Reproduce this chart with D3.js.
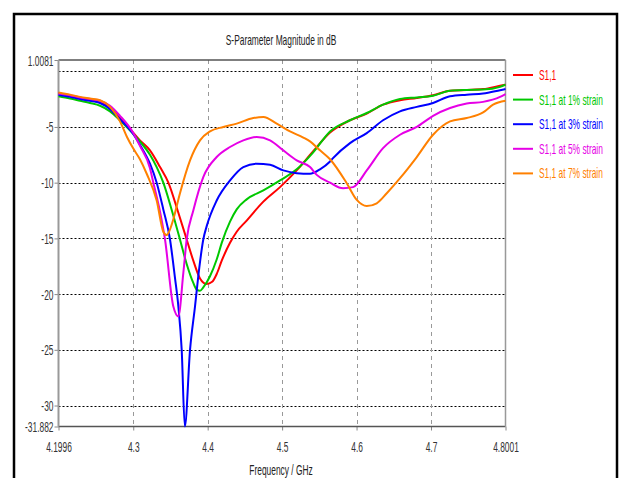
<!DOCTYPE html>
<html>
<head>
<meta charset="utf-8">
<script src="https://cdn.jsdelivr.net/npm/d3@7"></script>
<style>
  html, body { margin: 0; padding: 0; background: #fff; }
  svg { display: block; font-family: "Liberation Sans", Arial, sans-serif; }
</style>
</head>
<body>
<svg id="chart" width="619" height="478"></svg>
<script>
// S11 magnitude (dB) versus frequency (GHz), one [f, dB] list per strain level
const s11 = [
  [4.1996,-1.95],[4.2151,-2.2],[4.2285,-2.4],[4.2419,-2.6],[4.2554,-2.8],[4.2688,-3.3],
  [4.2822,-4.2],[4.2997,-5.5],[4.3090,-6.2],[4.3225,-7.1],[4.3360,-8.6],[4.3472,-10.0],
  [4.3606,-12.7],[4.3718,-15.1],[4.3807,-17.0],[4.3897,-18.6],[4.3987,-19.1],[4.4060,-18.9],
  [4.4121,-18.2],[4.4189,-17.0],[4.4300,-15.4],[4.4390,-14.4],[4.4524,-13.4],[4.4748,-11.7],
  [4.4972,-10.4],[4.5196,-8.9],[4.5415,-7.2],[4.5644,-5.5],[4.5912,-4.4],[4.6137,-3.8],
  [4.6356,-3.0],[4.6584,-2.6],[4.6809,-2.4],[4.7028,-2.15],[4.7256,-1.75],[4.7480,-1.68],
  [4.7700,-1.6],[4.7928,-1.3],[4.8001,-1.2]
];
const s11Strain1 = [
  [4.1996,-2.25],[4.2151,-2.45],[4.2285,-2.65],[4.2419,-2.85],[4.2554,-3.1],[4.2688,-3.6],
  [4.2822,-4.4],[4.2997,-5.6],[4.3090,-6.3],[4.3225,-7.5],[4.3315,-8.6],[4.3404,-10.0],
  [4.3515,-12.4],[4.3628,-15.1],[4.3718,-17.3],[4.3807,-19.0],[4.3853,-19.6],[4.3897,-19.7],
  [4.3941,-19.4],[4.4031,-18.4],[4.4121,-16.9],[4.4189,-15.4],[4.4300,-13.5],[4.4390,-12.4],
  [4.4524,-11.5],[4.4748,-10.7],[4.4972,-9.8],[4.5196,-8.8],[4.5415,-7.3],[4.5644,-5.4],
  [4.5912,-4.4],[4.6137,-3.75],[4.6356,-3.0],[4.6584,-2.5],[4.6809,-2.35],[4.7028,-2.2],
  [4.7256,-1.75],[4.7480,-1.68],[4.7700,-1.65],[4.7928,-1.4],[4.8001,-1.2]
];
const s11Strain3 = [
  [4.1996,-2.1],[4.2151,-2.3],[4.2285,-2.5],[4.2419,-2.65],[4.2554,-2.85],[4.2688,-3.4],
  [4.2822,-4.3],[4.2997,-5.6],[4.3090,-6.6],[4.3225,-8.3],[4.3315,-10.0],[4.3404,-12.4],
  [4.3494,-15.1],[4.3560,-18.5],[4.3606,-21.1],[4.3651,-25.0],[4.3693,-31.88],[4.3763,-25.0],
  [4.3830,-21.1],[4.3888,-17.6],[4.3941,-15.1],[4.3987,-13.9],[4.4121,-11.6],[4.4300,-9.8],
  [4.4479,-8.6],[4.4659,-8.3],[4.4838,-8.4],[4.5016,-8.9],[4.5196,-9.15],[4.5375,-9.2],
  [4.5509,-8.8],[4.5644,-8.1],[4.5684,-7.8],[4.5912,-6.45],[4.6137,-5.55],[4.6356,-4.4],
  [4.6584,-3.6],[4.6809,-3.2],[4.7028,-2.85],[4.7256,-2.25],[4.7480,-2.1],[4.7700,-2.0],
  [4.7928,-1.7],[4.8001,-1.6]
];
const s11Strain5 = [
  [4.1996,-2.0],[4.2151,-2.15],[4.2285,-2.35],[4.2419,-2.5],[4.2554,-2.65],[4.2688,-3.1],
  [4.2822,-4.0],[4.2997,-5.5],[4.3090,-6.7],[4.3225,-8.7],[4.3270,-10.0],[4.3360,-12.6],
  [4.3427,-15.1],[4.3538,-21.1],[4.3606,-22.0],[4.3673,-18.1],[4.3718,-15.1],[4.3807,-12.5],
  [4.3941,-9.5],[4.4121,-7.7],[4.4300,-6.8],[4.4479,-6.2],[4.4659,-5.9],[4.4838,-6.2],
  [4.5016,-7.1],[4.5196,-8.0],[4.5375,-8.6],[4.5465,-9.3],[4.5644,-10.0],[4.5819,-10.5],
  [4.5953,-10.4],[4.6137,-8.9],[4.6356,-6.9],[4.6584,-5.7],[4.6809,-5.0],[4.7028,-4.0],
  [4.7256,-3.3],[4.7480,-2.9],[4.7700,-2.75],[4.7928,-2.3],[4.8001,-2.05]
];
const s11Strain7 = [
  [4.1996,-1.9],[4.2151,-2.1],[4.2285,-2.3],[4.2419,-2.45],[4.2554,-2.6],[4.2688,-3.2],
  [4.2822,-4.5],[4.2916,-5.9],[4.2997,-6.9],[4.3090,-7.9],[4.3181,-9.2],[4.3315,-11.6],
  [4.3404,-14.4],[4.3450,-14.7],[4.3494,-14.2],[4.3538,-13.3],[4.3628,-10.95],[4.3763,-8.0],
  [4.3897,-6.2],[4.4031,-5.4],[4.4210,-5.0],[4.4390,-4.7],[4.4613,-4.2],[4.4748,-4.1],
  [4.4928,-4.7],[4.5106,-5.4],[4.5285,-5.95],[4.5375,-6.3],[4.5509,-7.1],[4.5644,-7.9],
  [4.5868,-10.05],[4.6003,-11.55],[4.6137,-12.1],[4.6271,-11.85],[4.6406,-10.95],
  [4.6584,-9.6],[4.6809,-7.7],[4.7028,-5.7],[4.7256,-4.5],[4.7480,-4.2],[4.7700,-3.7],
  [4.7834,-3.0],[4.8001,-2.65]
];

const seriesNames  = ["S1,1", "S1,1 at 1% strain", "S1,1 at 3% strain", "S1,1 at 5% strain", "S1,1 at 7% strain"];
const seriesColors = ["#ff0000", "#00c800", "#0000ff", "#e600e6", "#ff8000"];
const seriesData   = [s11, s11Strain1, s11Strain3, s11Strain5, s11Strain7];

const xTicks = [4.1996, 4.3, 4.4, 4.5, 4.6, 4.7, 4.8001];
const xTickLabels = ["4.1996", "4.3", "4.4", "4.5", "4.6", "4.7", "4.8001"];
const yTicks = [1.0081, -5, -10, -15, -20, -25, -30, -31.882];
const yTickLabels = ["1.0081", "-5", "-10", "-15", "-20", "-25", "-30", "-31.882"];
const xGrid = [4.3, 4.4, 4.5, 4.6, 4.7];
const yGrid = [0, -5, -10, -15, -20, -25, -30];

const svg = d3.select("#chart");
const plot = { left: 58.5, right: 505.5, top: 60, bottom: 426.5 };

const x = d3.scaleLinear().domain([4.1996, 4.8001]).range([plot.left, plot.right]);
const y = d3.scaleLinear().domain([-31.882, 1.0081]).range([plot.bottom, plot.top]);

// condensed lettering: squeeze each label horizontally about its anchor point
const squeeze = 0.6;
function condense(sel) {
  sel.each(function () {
    const t = d3.select(this);
    const tx = +t.attr("x") || 0, ty = +t.attr("y") || 0;
    t.attr("x", 0).attr("y", 0)
     .attr("transform", `translate(${tx},${ty}) scale(${squeeze},1)`);
  });
}

// outer frame
svg.append("rect")
  .attr("x", 14).attr("y", 14).attr("width", 603).attr("height", 480)
  .attr("fill", "none").attr("stroke", "#000").attr("stroke-width", 2.5);

// grid
svg.append("g").selectAll("line").data(yGrid).join("line")
  .attr("x1", plot.left).attr("x2", plot.right)
  .attr("y1", d => Math.round(y(d)) + 0.5).attr("y2", d => Math.round(y(d)) + 0.5)
  .attr("stroke", "#000").attr("stroke-width", 1).attr("stroke-dasharray", "2,2");
svg.append("g").selectAll("line").data(xGrid).join("line")
  .attr("x1", d => Math.round(x(d)) + 0.5).attr("x2", d => Math.round(x(d)) + 0.5)
  .attr("y1", plot.top).attr("y2", plot.bottom)
  .attr("stroke", "#999").attr("stroke-width", 1).attr("stroke-dasharray", "4,4");

// axes
const yAxis = svg.append("g").attr("transform", `translate(${plot.left},0)`)
  .call(d3.axisLeft(y).tickValues(yTicks).tickSize(4).tickFormat((d, i) => yTickLabels[i]));
const xAxis = svg.append("g").attr("transform", `translate(0,${plot.bottom})`)
  .call(d3.axisBottom(x).tickValues(xTicks).tickSize(4).tickFormat((d, i) => xTickLabels[i]));
[yAxis, xAxis].forEach(a => {
  a.select(".domain").remove();
  a.selectAll(".tick line").attr("stroke", "#888");
  a.selectAll(".tick text").attr("fill", "#333").style("font-size", "14px")
    .style("font-family", "'Liberation Sans', Arial, sans-serif");
});
yAxis.selectAll(".tick text").attr("x", -5).attr("y", 0).attr("dy", "0.36em");
xAxis.selectAll(".tick text").attr("x", 0).attr("y", 20).attr("dy", "0.36em");
condense(yAxis.selectAll(".tick text"));
condense(xAxis.selectAll(".tick text"));

// plot border
svg.append("line").attr("x1", plot.left).attr("x2", plot.right).attr("y1", plot.top).attr("y2", plot.top)
  .attr("stroke", "#555").attr("stroke-width", 1.5);
svg.append("line").attr("x1", plot.left).attr("x2", plot.right).attr("y1", plot.bottom).attr("y2", plot.bottom)
  .attr("stroke", "#555").attr("stroke-width", 1.5);
svg.append("line").attr("x1", plot.left).attr("x2", plot.left).attr("y1", plot.top).attr("y2", plot.bottom)
  .attr("stroke", "#999").attr("stroke-width", 2);
svg.append("line").attr("x1", plot.right).attr("x2", plot.right).attr("y1", plot.top).attr("y2", plot.bottom)
  .attr("stroke", "#999").attr("stroke-width", 1.5);

// curves
const line = d3.line().x(d => x(d[0])).y(d => y(d[1])).curve(d3.curveMonotoneX);
svg.append("g").selectAll("path").data(seriesData).join("path")
  .attr("d", line)
  .attr("fill", "none")
  .attr("stroke", (d, i) => seriesColors[i])
  .attr("stroke-width", 2)
  .attr("stroke-linejoin", "round");

// title and axis label
const title = svg.append("text").attr("x", 281).attr("y", 45).attr("text-anchor", "middle")
  .attr("fill", "#222").style("font-size", "14px").text("S-Parameter Magnitude in dB");
const xLabel = svg.append("text").attr("x", 281).attr("y", 475).attr("text-anchor", "middle")
  .attr("fill", "#222").style("font-size", "14px").text("Frequency / GHz");
condense(title);
condense(xLabel);

// legend
const legend = svg.append("g").selectAll("g").data(seriesNames).join("g")
  .attr("transform", (d, i) => `translate(513,${75 + i * 24.6})`);
legend.append("line").attr("x1", 0).attr("x2", 20).attr("y1", 0).attr("y2", 0)
  .attr("stroke", (d, i) => seriesColors[i]).attr("stroke-width", 2);
const legendText = legend.append("text").attr("x", 26).attr("y", 0).attr("dy", "0.36em")
  .attr("fill", (d, i) => seriesColors[i]).style("font-size", "14px").text(d => d);
condense(legendText);
</script>
</body>
</html>
